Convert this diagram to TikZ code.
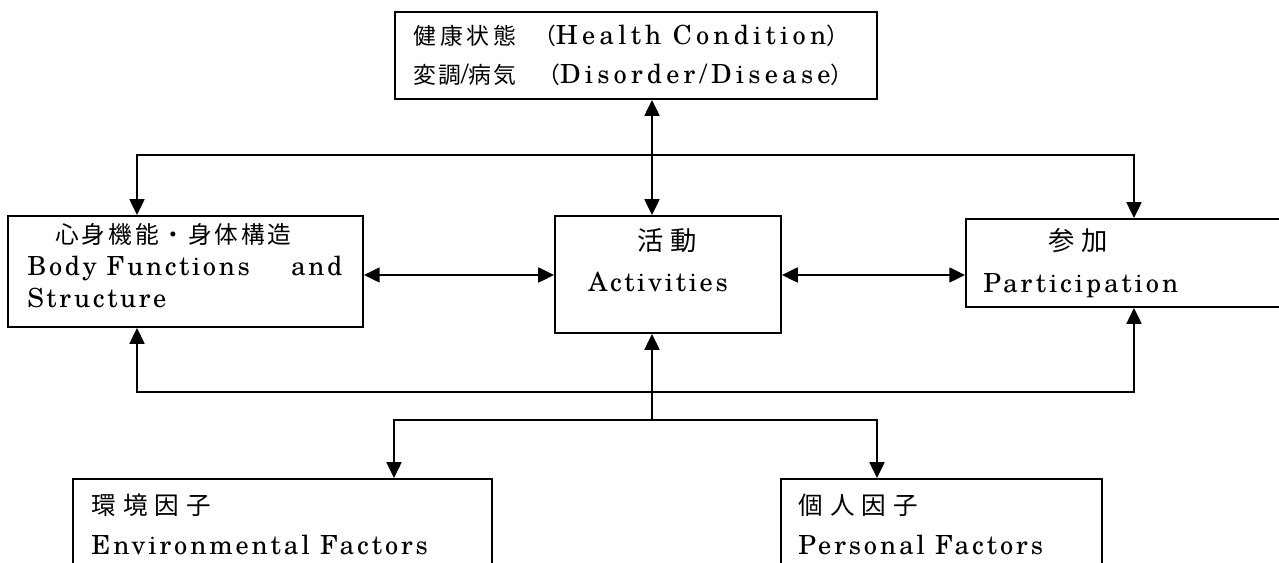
\documentclass[tikz,border=0pt]{standalone}
\usepackage{fontspec}
\setmainfont{texgyreschola-regular.otf}
\newfontfamily\jp{Noto Sans CJK JP}
\usepackage{tikz}
\usetikzlibrary{arrows.meta}
\newcommand\jpsp[2]{{\jp\addfontfeatures{LetterSpace=#1}#2}}
\newcommand\ltsp[2]{{\addfontfeatures{LetterSpace=#1}#2}}
\newcommand\jpsmall{\fontsize{13}{16}\selectfont}
\tikzset{
  icfbox/.style={draw, line width=1.1pt, inner sep=0pt},
  link/.style={line width=1.1pt},
  txt/.style={anchor=base west, inner sep=0pt, font=\fontsize{15}{18}\selectfont},
}
\begin{document}
\begin{tikzpicture}[x=0.02cm, y=-0.02cm, >={Triangle[length=9pt,width=8.5pt]}]
  \useasboundingbox (0,0) rectangle (1279,563);
  \clip (0,0) rectangle (1279,563);
  % boxes
  \node[icfbox, minimum width=9.64cm, minimum height=1.74cm] (health) at (636,55.5) {};
  \node[icfbox, minimum width=7.1cm, minimum height=2.22cm] (body) at (185.5,271.5) {};
  \node[icfbox, minimum width=4.52cm, minimum height=2.34cm] (act) at (668,274.5) {};
  \node[icfbox, minimum width=6.32cm, minimum height=1.76cm] (part) at (1124,263) {};
  \node[icfbox, minimum width=8.38cm, minimum height=2.82cm] (env) at (282.5,549.5) {};
  \node[icfbox, minimum width=6.42cm, minimum height=2.82cm] (pers) at (941.5,549.5) {};
  % texts
  \node[txt] (health1) at (413,45) {{\jpsmall\jpsp{17}{健康状態}\hspace{9.5pt}\jpsp{0}{（}}\ltsp{16}{Health Condition}{\jpsmall\jpsp{0}{）}}};
  \node[txt] (health2) at (413,84) {{\jpsmall\jpsp{9}{変調}}/{\jpsmall\jpsp{9}{病気}\hspace{12pt}\jpsp{0}{（}}\ltsp{16}{Disorder/Disease}{\jpsmall\jpsp{0}{）}}};
  \node[txt] (body1) at (55,244) {\fontsize{13.5}{16}\selectfont\jpsp{12}{心身機能・身体構造}};
  \node[txt] (body2) at (27,276) {\makebox[6.3cm][l]{\ltsp{10}{Body Functions}\hfill\ltsp{10}{and}}};
  \node[txt] (body3) at (27,308) {\ltsp{10}{Structure}};
  \node[txt] (act1) at (637,251) {\jpsp{25}{活動}};
  \node[txt] (act2) at (588,292) {\ltsp{10}{Activities}};
  \node[txt] (part1) at (1048,251) {\jpsp{25}{参加}};
  \node[txt] (part2) at (983,293) {\ltsp{11}{Participation}};
  \node[txt] (env1) at (91,515) {\fontsize{14}{16}\selectfont\jpsp{29}{環境因子}};
  \node[txt] (env2) at (91,555) {\ltsp{11}{Environmental Factors}};
  \node[txt] (pers1) at (798,515) {\fontsize{14}{16}\selectfont\jpsp{29}{個人因子}};
  \node[txt] (pers2) at (798,555) {\ltsp{11}{Personal Factors}};
  % connectors
  \coordinate (lx) at (137,0);
  \coordinate (cx) at (652,0);
  \coordinate (rx) at (1134,0);
  \coordinate (ex) at (394,0);
  \coordinate (px) at (877,0);
  \coordinate (mid) at (0,275);
  \coordinate (topbus) at (652,155);
  \coordinate (botbus) at (652,392);
  \coordinate (fork) at (652,420);
  \draw[link, <->] (health.south -| cx) -- (act.north -| cx);
  \draw[link, <->] (body.north -| lx) |- (topbus) -| (part.north -| rx);
  \draw[link, <->] (body.east |- mid) -- (act.west |- mid);
  \draw[link, <->] (act.east |- mid) -- (part.west |- mid);
  \draw[link, <->] (body.south -| lx) |- (botbus) -| (part.south -| rx);
  \draw[link, ->] (fork) -- (act.south -| cx);
  \draw[link, <->] (env.north -| ex) |- (fork) -| (pers.north -| px);
\end{tikzpicture}
\end{document}
